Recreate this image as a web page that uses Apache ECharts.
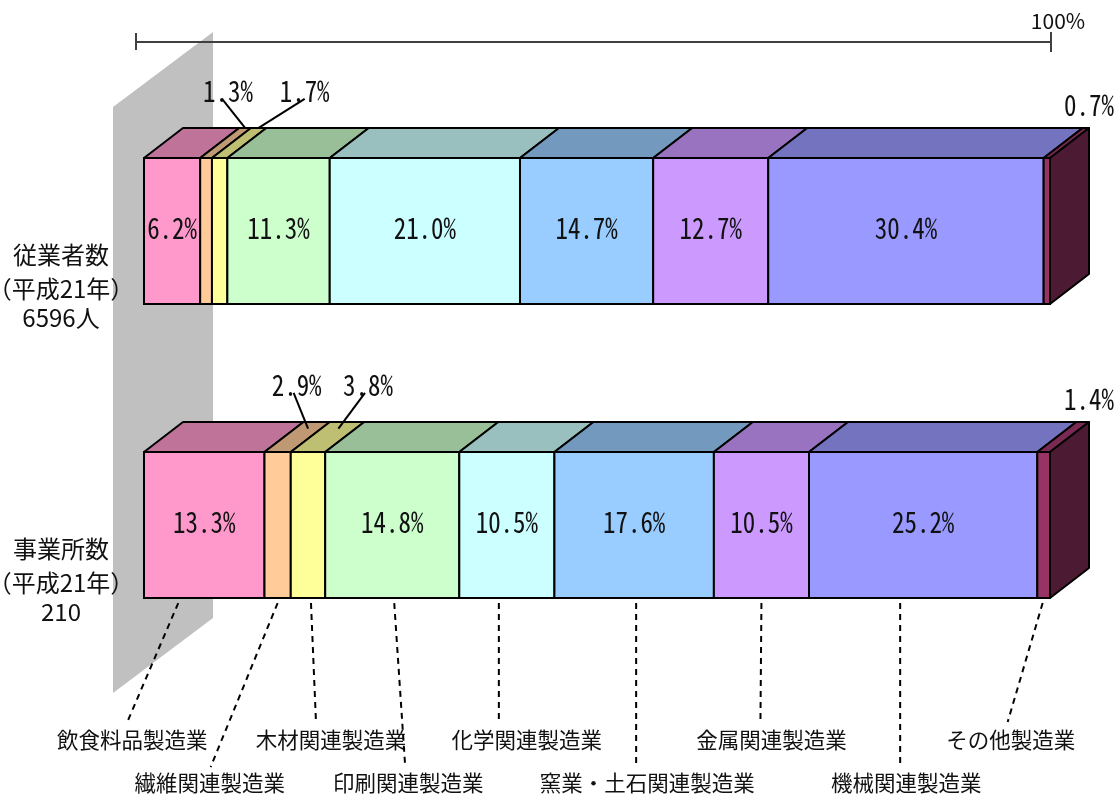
<!DOCTYPE html>
<html><head><meta charset="utf-8">
<script src="https://cdn.jsdelivr.net/npm/echarts@6/dist/echarts.min.js"></script>
<style>html,body{margin:0;padding:0;background:#fff}#c{width:1120px;height:798px}</style>
</head><body><div id="c"></div>
<script>
// ---- data ----
const categories = ['飲食料品製造業','繊維関連製造業','木材関連製造業','印刷関連製造業','化学関連製造業','窯業・土石関連製造業','金属関連製造業','機械関連製造業','その他製造業'];
const rowNames = ['従業者数','事業所数'];
const rowSubtitles = ['（平成21年）','（平成21年）'];
const rowTotals = ['6596人','210'];
const employees = [6.2, 1.3, 1.7, 11.3, 21.0, 14.7, 12.7, 30.4, 0.7];
const establishments = [13.3, 2.9, 3.8, 14.8, 10.5, 17.6, 10.5, 25.2, 1.4];
const totalLabel = '100%';

// ---- style / layout ----
const frontColors = ['#FF99CC','#FFCC99','#FFFF99','#CCFFCC','#CCFFFF','#99CCFF','#CC99FF','#9999FF','#993366'];
const topColors   = ['#BF7399','#BF9973','#BFBF73','#99BF99','#99BFBF','#7399BF','#9973BF','#7373BF','#7A2952'];
const sideColor = '#4D1A33';
const DX = 39, DY = 30;
const NUM_FONT = "'Noto Sans Mono CJK JP','DejaVu Sans Mono',monospace";
const JP_FONT = "'Noto Sans CJK JP','Noto Sans',sans-serif";
const NUM_SIZE = 29, NUM_SCALE = 0.86;
// labels of thin segments, placed above the bar (px offsets from segment front centre)
const smallLabelLayout = [
  {1: {dx: 22, depth: 1.0, lx: -6}, 2: {dx: 85, depth: 1.0, lx: 0}},
  {1: {dx: 19, depth: 0.78, lx: -3}, 2: {dx: 60, depth: 0.78, lx: -3}}
];
// category name labels under the lower bar
const catLayout = [
  {labelDx: -72, row: 0, startDx: -26, endDx: -5},
  {labelDx: -68, row: 1, startDx: 0,   endDx: 1},
  {labelDx: 23,  row: 0, startDx: 3,   endDx: -15},
  {labelDx: 16,  row: 1, startDx: 2,   endDx: -3},
  {labelDx: 20,  row: 0, startDx: -8,  endDx: -28},
  {labelDx: 13,  row: 1, startDx: 2,   endDx: -11},
  {labelDx: 10,  row: 0, startDx: 0,   endDx: -11},
  {labelDx: -17, row: 1, startDx: -23, endDx: -6},
  {labelDx: -33, row: 0, startDx: -1,  endDx: -3}
];

const rows = [employees, establishments];
const segData = [];
rows.forEach((vals, r) => {
  let acc = 0;
  vals.forEach((v, i) => { segData.push([acc, acc + v, r, i, v]); acc += v; });
});
const last = categories.length - 1;

function fmt(v) { return v.toFixed(1) + '%'; }
function numText(x, y, t) {
  return {type: 'text', x: x, y: y, scaleX: NUM_SCALE,
    style: {text: t, fill: '#111', font: NUM_SIZE + 'px ' + NUM_FONT, align: 'center', verticalAlign: 'middle', textAlign: 'center', textVerticalAlign: 'middle'}};
}

function renderSeg(params, api) {
  const s = api.value(0), e = api.value(1), r = api.value(2), i = api.value(3), v = api.value(4);
  const p0 = api.coord([s, r]), p1 = api.coord([e, r]);
  const band = api.size([0, 1])[1];
  const h = band * 0.497;
  const cy = p0[1];
  const yt = cy - h / 2, yb = cy + h / 2;
  const x0 = p0[0], x1 = p1[0];
  const cx = (x0 + x1) / 2;
  const ch = [];
  ch.push({type: 'polygon', shape: {points: [[x0, yt], [x0 + DX, yt - DY], [x1 + DX, yt - DY], [x1, yt]]},
    style: {fill: topColors[i], stroke: '#000', lineWidth: 2, lineJoin: 'round'}});
  ch.push({type: 'rect', shape: {x: x0, y: yt, width: x1 - x0, height: yb - yt},
    style: {fill: frontColors[i], stroke: '#000', lineWidth: 2}});
  if (i === last) {
    ch.push({type: 'polygon', shape: {points: [[x1, yt], [x1 + DX, yt - DY], [x1 + DX, yb - DY], [x1, yb]]},
      style: {fill: sideColor, stroke: '#000', lineWidth: 2, lineJoin: 'round'}});
    ch.push(numText(x1 + 39, yt - 53, fmt(v)));
  } else if (smallLabelLayout[r][i]) {
    const L = smallLabelLayout[r][i];
    const lx = cx + L.dx, ly = yt - 67;
    ch.push(numText(lx, ly, fmt(v)));
    ch.push({type: 'line', shape: {x1: lx + L.lx, y1: ly + 8, x2: cx + DX * L.depth, y2: yt - DY * L.depth},
      style: {stroke: '#000', lineWidth: 2}});
  } else {
    ch.push(numText(cx, cy - 3, fmt(v)));
  }
  if (i === 0) {
    const tx = x0 - 83;
    [[rowNames[r], 24], [rowSubtitles[r], 58], [rowTotals[r], 87]].forEach(([t, dy]) => {
      ch.push({type: 'text', x: tx, y: cy + dy,
        style: {text: t, fill: '#111', font: '24px ' + JP_FONT, align: 'center', verticalAlign: 'middle', textAlign: 'center', textVerticalAlign: 'middle'}});
    });
  }
  if (r === rows.length - 1) {
    const C = catLayout[i];
    const lx = cx + C.labelDx;
    const ly = yb + (C.row === 0 ? 142 : 185);
    ch.push({type: 'line', shape: {x1: cx + C.startDx, y1: yb + 5, x2: lx + C.endDx, y2: ly - (C.row === 0 ? 18 : 16)},
      style: {stroke: '#000', lineWidth: 2, lineDash: [6, 5]}});
    ch.push({type: 'text', x: lx, y: ly,
      style: {text: categories[i], fill: '#111', font: '21.5px ' + JP_FONT, align: 'center', verticalAlign: 'middle', textAlign: 'center', textVerticalAlign: 'middle'}});
  }
  return {type: 'group', children: ch};
}

function renderBracket(params, api) {
  const xl = api.coord([0, 0])[0] - 8;
  const xr = api.coord([100, 0])[0] + 1;
  const y = 42;
  return {type: 'group', children: [
    {type: 'line', shape: {x1: xl, y1: y, x2: xr, y2: y}, style: {stroke: '#404040', lineWidth: 2}},
    {type: 'line', shape: {x1: xl, y1: y - 9, x2: xl, y2: y + 8}, style: {stroke: '#404040', lineWidth: 2}},
    {type: 'line', shape: {x1: xr, y1: y - 10, x2: xr, y2: y + 10}, style: {stroke: '#404040', lineWidth: 2}},
    {type: 'text', x: xr + 7, y: 21, style: {text: totalLabel, fill: '#111', font: '21px ' + JP_FONT, align: 'center', verticalAlign: 'middle', textAlign: 'center', textVerticalAlign: 'middle'}}
  ]};
}

const chart = echarts.init(document.getElementById('c'));
chart.setOption({
  animation: false,
  backgroundColor: '#fff',
  grid: {left: 144, right: 70, top: 84, bottom: 126},
  xAxis: {type: 'value', min: 0, max: 100, show: false},
  yAxis: {type: 'category', data: rowNames, inverse: true, show: false},
  graphic: [{
    type: 'polygon', z: 0,
    shape: {points: [[113, 107], [213, 32], [213, 618], [113, 693]]},
    style: {fill: '#C0C0C0'}
  }],
  series: [
    {type: 'custom', renderItem: renderSeg, data: segData, encode: {x: [0, 1], y: 2}, z: 3},
    {type: 'custom', renderItem: renderBracket, data: [[0, 0]], z: 3}
  ]
});
</script></body></html>
